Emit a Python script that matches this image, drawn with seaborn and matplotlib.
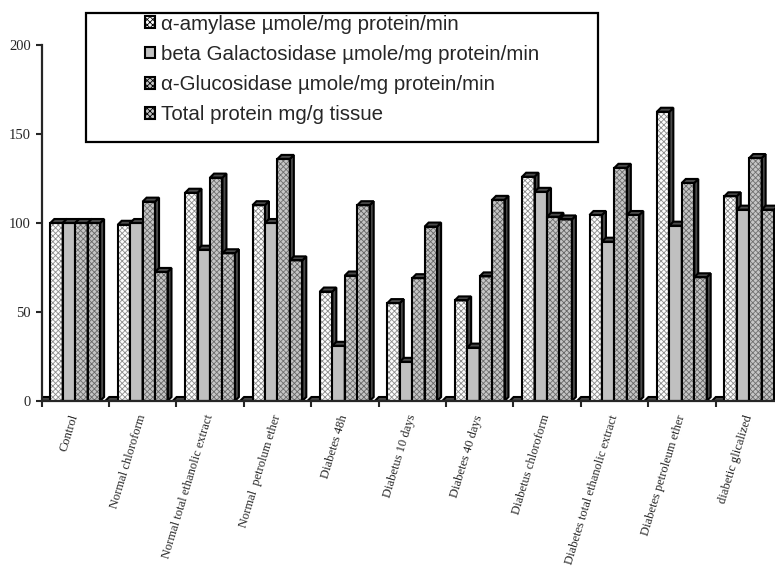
import numpy as np
import pandas as pd
import matplotlib
matplotlib.use("Agg")
import matplotlib.pyplot as plt
from matplotlib.colors import to_hex
from matplotlib.patches import Polygon, Rectangle
import seaborn as sns

# ---- data -----------------------------------------------------------------
groups = ["Control", "Normal chloroform", "Normal total ethanolic extract",
          "Normal  petrolum ether", "Diabetes 48h", "Diabetus 10 days",
          "Diabetes 40 days", "Diabetus chloroform",
          "Diabetes total ethanolic extract", "Diabetes petroleum ether",
          "diabetic glicalized"]

series_names = ["α-amylase µmole/mg protein/min",
                "beta Galactosidase µmole/mg protein/min",
                "α-Glucosidase µmole/mg protein/min",
                "Total protein mg/g tissue"]

amylase = [100, 99, 117, 110, 61.5, 55, 56.5, 126, 104.5, 162.5, 115]
galactosidase = [100, 100, 85, 100, 31, 22, 30, 117.5, 89.5, 98.5, 107.5]
glucosidase = [100, 112, 125.5, 136, 70.5, 69, 70, 103.5, 131, 122.5, 136.5]
protein = [100, 72.5, 83, 79, 110, 98, 113, 102, 104.5, 69.5, 107.5]
# empty leading slot in every group (drawn as a flat bar)
blank = [0, 0, 0, 0, 0, 0, 0, 0, 0, 0, 0]

yticks = [0, 50, 100, 150, 200]

# ---- table ------------------------------------------------------------------
blank_name = "blank"
columns = [blank, amylase, galactosidase, glucosidase, protein]
hue_order = [blank_name] + series_names
rows = []
for name, vals in zip(hue_order, columns):
    for g, v in zip(groups, vals):
        rows.append({"group": g, "series": name, "value": v})
df = pd.DataFrame(rows)

# ---- styles -----------------------------------------------------------------
face = {blank_name: "#ffffff",
        series_names[0]: "#fdfdfd",
        series_names[1]: "#c0c0c0",
        series_names[2]: "#c6c6c6",
        series_names[3]: "#c4c4c4"}
hatch = {blank_name: None,
         series_names[0]: "xxxxxx",
         series_names[1]: None,
         series_names[2]: "xxxxxx",
         series_names[3]: "xxxxxx"}
hatch_col = {blank_name: "#ffffff",
             series_names[0]: "#8c8c8c",
             series_names[1]: "#c0c0c0",
             series_names[2]: "#6e6e6e",
             series_names[3]: "#666666"}

sns.set_style("ticks")
plt.rcParams["hatch.linewidth"] = 0.6
serif = ["Liberation Serif", "DejaVu Serif"]
sans = ["Liberation Sans", "DejaVu Sans"]

FW, FH = 775, 568
unit_px = 67.4          # pixels per category
n = len(groups)
w = 12.45 / unit_px     # single bar width in category units
depth_px = 4.0

fig = plt.figure(figsize=(FW / 100, FH / 100), dpi=100)
ax = fig.add_axes([41.5 / FW, 167 / FH, n * unit_px / FW, 356 / FH])

sns.barplot(data=df, x="group", y="value", hue="series", order=groups,
            hue_order=hue_order, palette=face, width=5 * w, gap=0,
            dodge=True, errorbar=None, legend=False, saturation=1,
            linewidth=0, ax=ax)

b0 = 0.5 * w - 0.5
ax.set_xlim(b0, b0 + n)
ax.set_ylim(0, 200)

dx = depth_px / unit_px
dy = depth_px * 200 / 356

color_to_series = {to_hex(c): s for s, c in face.items()}
bars = sorted(list(ax.patches), key=lambda p: p.get_x())
for r, p in enumerate(bars):
    s = color_to_series[to_hex(p.get_facecolor())]
    x0, wd, h = p.get_x(), p.get_width(), p.get_height()
    z = 2 + 0.01 * r
    p.set_zorder(z)
    if hatch[s]:
        p.set_hatch(hatch[s])
        p.set_edgecolor(hatch_col[s])
    p.set_linewidth(0)
    # outline of the front face
    ax.add_patch(Rectangle((x0, 0), wd, h, fill=False, ec="black",
                           lw=1.5, zorder=z + 0.002))
    # right side face
    side = [(x0 + wd, 0), (x0 + wd + dx, dy), (x0 + wd + dx, h + dy),
            (x0 + wd, h)]
    ax.add_patch(Polygon(side, closed=True, fc="#4a4a4a", ec="black",
                         lw=1.5, zorder=z + 0.001))
    # top face
    top = [(x0, h), (x0 + dx, h + dy), (x0 + wd + dx, h + dy), (x0 + wd, h)]
    ax.add_patch(Polygon(top, closed=True, fc="#4a4a4a", ec="black",
                         lw=1.5, zorder=z + 0.001))

# ---- axes -------------------------------------------------------------------
for sp in ["top", "right"]:
    ax.spines[sp].set_visible(False)
for sp in ["left", "bottom"]:
    ax.spines[sp].set_linewidth(1.6)
    ax.spines[sp].set_zorder(10)

ax.set_yticks(yticks)
ax.set_yticklabels([str(t) for t in yticks], family=serif, fontsize=10.5)
ax.tick_params(axis="y", length=4.5, width=1.5, direction="out", pad=3)

ax.set_xticks(np.arange(n) + 0.5 * w)
ax.set_xticklabels(groups, rotation=73, ha="right", va="center",
                   rotation_mode="anchor", family=serif, fontsize=9)
ax.tick_params(axis="x", which="major", length=0, pad=10)
ax.set_xticks(np.arange(n + 1) + b0, minor=True)
ax.tick_params(axis="x", which="minor", length=4.5, width=1.5,
               direction="out")
ax.set_xlabel("")
ax.set_ylabel("")

# ---- legend -----------------------------------------------------------------
box = Rectangle((86 / FW, 1 - 142 / FH), 512 / FW, 129 / FH,
                transform=fig.transFigure, fc="white", ec="black", lw=1.6,
                zorder=20)
fig.add_artist(box)
handles = [Rectangle((0, 0), 1, 1, fc=face[s], hatch=hatch[s],
                     ec="black", lw=1.5) for s in series_names]
leg = fig.legend(handles, series_names, loc="center",
                 bbox_to_anchor=(342 / FW, 1 - 69.5 / FH), frameon=False,
                 prop={"family": sans, "size": 14.8}, handlelength=0.5,
                 handleheight=0.5, handletextpad=0.3, labelspacing=0.55,
                 borderpad=0)
leg.set_zorder(21)

fig.savefig("out.png", dpi=100)
